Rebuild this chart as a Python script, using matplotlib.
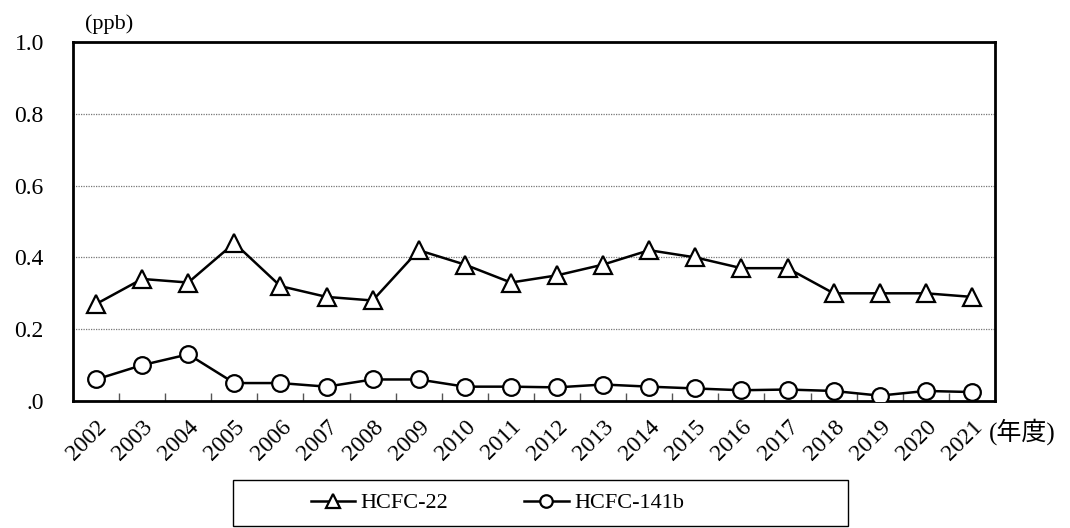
import matplotlib.pyplot as plt
from matplotlib.patches import Rectangle

plt.rcParams['font.family'] = ['Liberation Serif', 'Noto Sans CJK JP']

years = [str(y) for y in range(2002, 2022)]
hcfc22 = [0.27, 0.34, 0.33, 0.44, 0.32, 0.29, 0.28, 0.42, 0.38, 0.33,
          0.35, 0.38, 0.42, 0.40, 0.37, 0.37, 0.30, 0.30, 0.30, 0.29]
hcfc141b = [0.06, 0.10, 0.13, 0.05, 0.05, 0.04, 0.06, 0.06, 0.04, 0.04,
            0.038, 0.046, 0.04, 0.035, 0.03, 0.032, 0.028, 0.015, 0.028, 0.025]
yticks = [0.0, 0.2, 0.4, 0.6, 0.8, 1.0]
ytick_labels = [".0", "0.2", "0.4", "0.6", "0.8", "1.0"]

fig = plt.figure(figsize=(10.7, 5.28), dpi=100)
ax = fig.add_axes([0.0682, 0.2405, 0.8617, 0.68])

x = list(range(len(years)))
l1, = ax.plot(x, hcfc22, color="black", lw=1.8, marker="^", ms=13,
              mfc="white", mec="black", mew=1.6, label="HCFC-22", zorder=3)
l2, = ax.plot(x, hcfc141b, color="black", lw=1.8, marker="o", ms=12,
              mfc="white", mec="black", mew=1.6, label="HCFC-141b", zorder=3)

ax.set_xlim(-0.5, len(years) - 0.5)
ax.set_ylim(0, 1.0)

# boundary ticks (Excel style), labels at category centres
ax.set_xticks([i - 0.5 for i in range(1, len(years))])
ax.set_xticklabels([])
ax.tick_params(axis="x", which="major", direction="in", length=6, width=1,
               color="#555555")
ax.set_xticks(x, minor=True)
ax.set_xticklabels(years, minor=True, rotation=45, ha="right", va="top",
                   rotation_mode="anchor", fontsize=17)
ax.tick_params(axis="x", which="minor", length=0, pad=11)

ax.set_yticks(yticks)
ax.set_yticklabels(ytick_labels, fontsize=17)
ax.tick_params(axis="y", length=0, pad=21)

for v in yticks[1:-1]:
    ax.axhline(v, color="#777777", lw=0.9, ls=(0, (1, 1)), zorder=1)

for s in ax.spines.values():
    s.set_linewidth(2)
    s.set_color("black")

fig.text(0.102, 0.955, "(ppb)", fontsize=16, ha="center", va="center")
fig.text(0.924, 0.182, "(年度)", fontsize=18, ha="left", va="center")

# legend box
fig.patches.append(Rectangle((233 / 1070, 1 - 526 / 528), 615 / 1070, 46 / 528,
                             transform=fig.transFigure, fill=False,
                             edgecolor="black", lw=1))
leg = fig.legend(handles=[l1, l2], loc="center left", ncol=2,
                 bbox_to_anchor=(0.2905, 0.047), bbox_transform=fig.transFigure,
                 fontsize=16, markerscale=0.75, frameon=False,
                 handlelength=2.0, handletextpad=0.25,
                 columnspacing=3.4, borderpad=0.0, borderaxespad=0.0)

fig.savefig("out.png", dpi=100)
